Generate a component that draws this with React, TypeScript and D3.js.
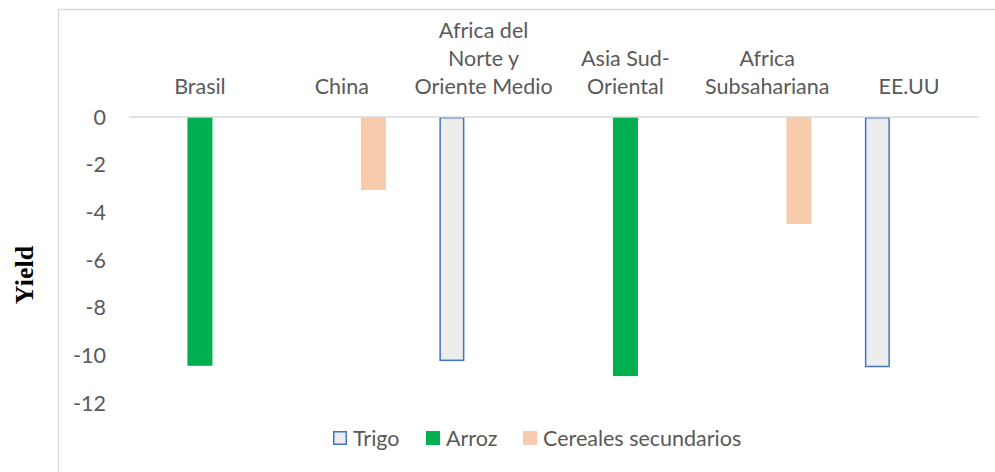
import React from "react";
import * as d3 from "d3";

const categories: string[][] = [
  ["Brasil"],
  ["China"],
  ["Africa del", "Norte y", "Oriente Medio"],
  ["Asia Sud-", "Oriental"],
  ["Africa", "Subsahariana"],
  ["EE.UU"],
];
const seriesNames = ["Trigo", "Arroz", "Cereales secundarios"];
const trigo: (number | null)[] = [null, null, -10.24, null, null, -10.5];
const arroz: (number | null)[] = [-10.44, null, null, -10.87, null, null];
const cereales: (number | null)[] = [null, -3.06, null, null, -4.49, null];
const yTicks = [0, -2, -4, -6, -8, -10, -12];

const W = 995;
const H = 472;
const FONT = "Lato, 'Open Sans', sans-serif";
const FS = 21.5;
const TEXT = "#595959";

const styles = [
  { fill: "#EDEDED", stroke: "#4472C4", sw: 1.5 },
  { fill: "#00B050", stroke: "none", sw: 0 },
  { fill: "#F8CBAD", stroke: "none", sw: 0 },
];

export default function App() {
  const x0 = d3
    .scaleBand<number>()
    .domain(categories.map((_, i) => i))
    .range([129, 980])
    .paddingInner(0)
    .paddingOuter(0);
  const y = d3.scaleLinear().domain([0, -12]).range([117, 403]);
  const series = [trigo, arroz, cereales];
  const bw = 25;

  const legendItems = [
    { name: seriesNames[0], x: 333, tx: 353 },
    { name: seriesNames[1], x: 426, tx: 446 },
    { name: seriesNames[2], x: 523, tx: 543 },
  ];

  return (
    <svg width={W} height={H} style={{ position: "absolute", left: 0, top: 0 }}>
      <rect x={0} y={0} width={W} height={H} fill="#fff" />
      {/* chart border */}
      <line x1={58} y1={9.5} x2={W} y2={9.5} stroke="#D9D9D9" strokeWidth={1.3} />
      <line x1={58.5} y1={9.5} x2={58.5} y2={H} stroke="#D9D9D9" strokeWidth={1.3} />
      {/* y tick labels */}
      {yTicks.map((t) => (
        <text key={t} x={106} y={y(t)} dy="0.36em" textAnchor="end" fontFamily={FONT} fontSize={FS} fill={TEXT}>
          {t === 0 ? "0" : "-" + Math.abs(t)}
        </text>
      ))}
      {/* category labels */}
      {categories.map((lines, i) => {
        const cx = (x0(i) as number) + x0.bandwidth() / 2;
        return (
          <text key={i} textAnchor="middle" fontFamily={FONT} fontSize={FS} fill={TEXT}>
            {lines.map((l, j) => (
              <tspan key={j} x={cx} y={94 - (lines.length - 1 - j) * 28}>
                {l}
              </tspan>
            ))}
          </text>
        );
      })}
      {/* bars */}
      {series.map((vals, s) =>
        vals.map((v, i) => {
          if (v === null) return null;
          const cx = (x0(i) as number) + x0.bandwidth() / 2 + (s - 1) * 31.7;
          const st = styles[s];
          const inset = st.sw / 2;
          return (
            <rect
              key={s + "-" + i}
              x={cx - bw / 2 + inset}
              y={y(0) + inset}
              width={bw - st.sw}
              height={y(v) - y(0) - st.sw}
              fill={st.fill}
              stroke={st.stroke}
              strokeWidth={st.sw}
            />
          );
        })
      )}
      {/* zero line */}
      <line x1={129} y1={y(0)} x2={979} y2={y(0)} stroke="#D9D9D9" strokeWidth={1.5} />
      {/* y axis title */}
      <text
        transform={`translate(32.5,275) rotate(-90)`}
        textAnchor="middle"
        fontFamily="'Liberation Serif', 'Times New Roman', serif"
        fontWeight="bold"
        fontSize={26}
        fill="#000"
      >
        Yield
      </text>
      {/* legend */}
      {legendItems.map((it, k) => (
        <g key={k}>
          <rect
            x={it.x + (k === 0 ? 0.75 : 0)}
            y={431 + (k === 0 ? 0.75 : 0)}
            width={14 - (k === 0 ? 1.5 : 0)}
            height={14 - (k === 0 ? 1.5 : 0)}
            fill={styles[k].fill}
            stroke={styles[k].stroke}
            strokeWidth={styles[k].sw}
          />
          <text x={it.tx} y={438} dy="0.36em" fontFamily={FONT} fontSize={FS} fill={TEXT}>
            {it.name}
          </text>
        </g>
      ))}
    </svg>
  );
}
